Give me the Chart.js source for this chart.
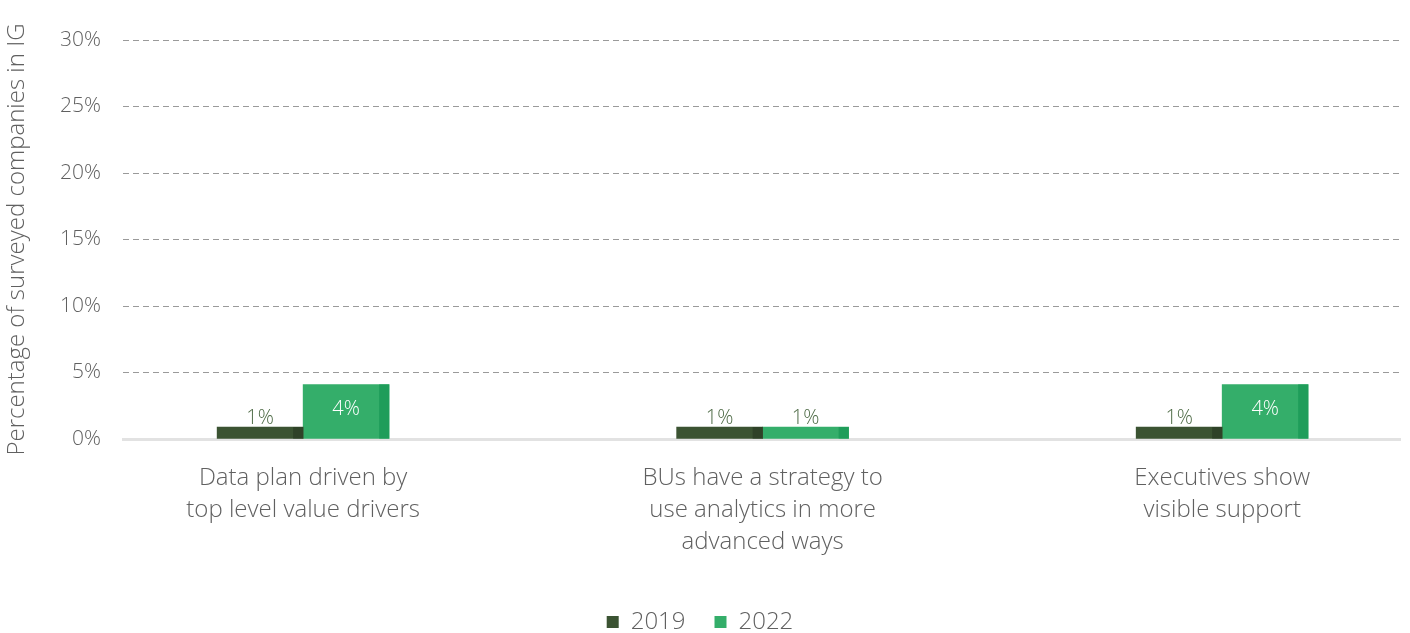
<!doctype html>
<html lang="en">
<head>
  <meta charset="utf-8">
  <title>Percentage of surveyed companies in IG</title>
  <style>
    html, body { margin: 0; padding: 0; background: #fff; }
    #wrap { width: 1410px; height: 633px; }
  </style>
</head>
<body>
  <div id="wrap"><canvas id="chart"></canvas></div>

  <script src="https://cdn.jsdelivr.net/npm/chart.js"></script>
  <script>
    const categories = [
      ['Data plan driven by', 'top level value drivers'],
      ['BUs have a strategy to', 'use analytics in more', 'advanced ways'],
      ['Executives show', 'visible support']
    ];
    const years = ['2019', '2022'];
    const values2019 = [0.9, 0.9, 0.9];
    const values2022 = [4.1, 0.9, 4.1];
    const valueLabels2019 = ['1%', '1%', '1%'];
    const valueLabels2022 = ['4%', '1%', '4%'];
    const yTicks = [0, 5, 10, 15, 20, 25, 30];

    const FONT = '"Open Sans", Lato, sans-serif';
    const TEXT = '#606060';
    const barColors = ['#3b5332', '#34ae6a'];
    const edgeColors = ['#2f4228', '#1f9d5a'];

    // darker strip on the right side of each bar
    const barEdges = {
      id: 'barEdges',
      afterDatasetsDraw(chart) {
        const ctx = chart.ctx;
        chart.data.datasets.forEach((ds, di) => {
          chart.getDatasetMeta(di).data.forEach(bar => {
            const p = bar.getProps(['x', 'y', 'base', 'width'], true);
            ctx.save();
            ctx.fillStyle = edgeColors[di];
            ctx.fillRect(p.x + p.width / 2 - 10, p.y, 10, p.base - p.y);
            ctx.restore();
          });
        });
      }
    };

    const valueLabels = {
      id: 'valueLabels',
      afterDatasetsDraw(chart) {
        const ctx = chart.ctx;
        ctx.save();
        ctx.font = '300 20px ' + FONT;
        ctx.textAlign = 'center';
        chart.data.datasets.forEach((ds, di) => {
          chart.getDatasetMeta(di).data.forEach((bar, i) => {
            const p = bar.getProps(['x', 'y'], true);
            const v = ds.data[i].y;
            if (v < 2) {
              ctx.fillStyle = '#4e6b46';
              ctx.textBaseline = 'bottom';
              ctx.fillText(ds.valueLabels[i], p.x, p.y + 1);
            } else {
              ctx.fillStyle = '#ffffff';
              ctx.textBaseline = 'top';
              ctx.fillText(ds.valueLabels[i], p.x, p.y + 15);
            }
          });
        });
        ctx.restore();
      }
    };

    const toPoints = arr => arr.map((v, i) => ({ x: i, y: v }));

    new Chart(document.getElementById('chart'), {
      type: 'bar',
      data: {
        datasets: [
          {
            label: years[0],
            data: toPoints(values2019),
            valueLabels: valueLabels2019,
            backgroundColor: barColors[0],
            barThickness: 86
          },
          {
            label: years[1],
            data: toPoints(values2022),
            valueLabels: valueLabels2022,
            backgroundColor: barColors[1],
            barThickness: 86
          }
        ]
      },
      plugins: [barEdges, valueLabels],
      options: {
        responsive: true,
        maintainAspectRatio: false,
        animation: false,
        layout: {
          padding: { top: 40, right: 10, left: 0, bottom: -11 }
        },
        scales: {
          x: {
            type: 'linear',
            offset: false,
            min: -0.392,
            max: 2.387,
            afterBuildTicks: scale => {
              scale.ticks = categories.map((c, i) => ({ value: i }));
            },
            afterFit: scale => { scale.height = 142; },
            grid: { display: false, offset: false },
            border: { display: true, color: '#e2e2e2', width: 3 },
            ticks: {
              autoSkip: false,
              maxRotation: 0,
              padding: 15,
              color: TEXT,
              font: { family: FONT, size: 24, weight: '300', lineHeight: 1.33 },
              callback: value => categories[value]
            }
          },
          y: {
            min: 0,
            max: 30,
            afterBuildTicks: scale => {
              scale.ticks = yTicks.map(v => ({ value: v }));
            },
            afterFit: scale => { scale.width = 123; },
            grid: {
              drawTicks: false,
              color: ctx => ctx.tick && ctx.tick.value === 0 ? 'rgba(0,0,0,0)' : '#9a9a9a',
              lineWidth: 1
            },
            border: { display: false, dash: [6, 4] },
            ticks: {
              padding: 22,
              color: TEXT,
              font: { family: FONT, size: 21, weight: '300' },
              callback: v => v + '%'
            },
            title: {
              display: true,
              text: 'Percentage of surveyed companies in IG',
              color: TEXT,
              padding: { top: 3, bottom: 0 },
              font: { family: FONT, size: 24, weight: '300' }
            }
          }
        },
        plugins: {
          legend: {
            position: 'bottom',
            labels: {
              boxWidth: 12,
              boxHeight: 12,
              padding: 29,
              color: TEXT,
              font: { family: FONT, size: 24, weight: '300' }
            }
          },
          tooltip: { enabled: false }
        }
      }
    });
  </script>
</body>
</html>
